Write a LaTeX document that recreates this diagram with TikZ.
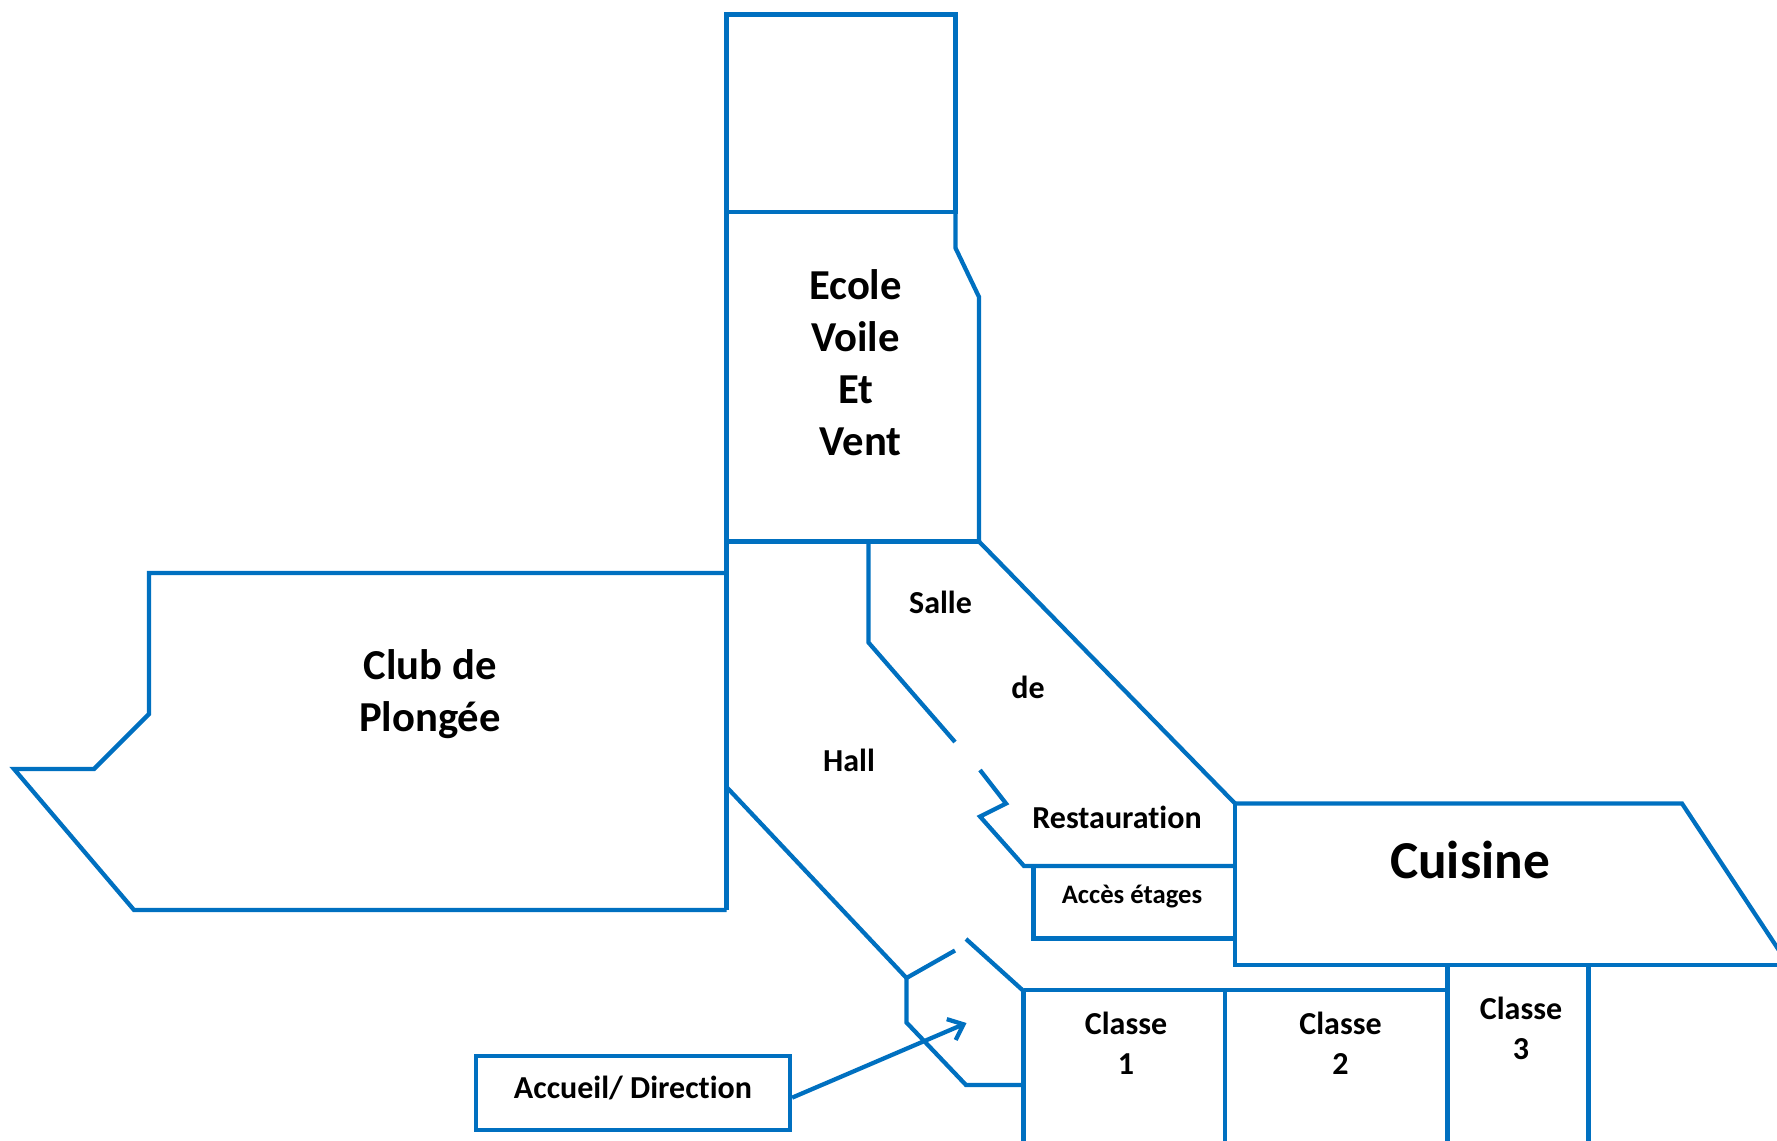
\documentclass[tikz,border=0pt]{standalone}
\usepackage{fontspec}
\setmainfont[Ligatures={NoCommon}]{Carlito}
\usetikzlibrary{arrows.meta}
\definecolor{wallblue}{HTML}{0070C0}
\tikzstyle{wall}=[draw=wallblue,line width=3.2pt,line join=miter]
\tikzstyle{big}=[font=\fontsize{32}{39}\selectfont\bfseries,align=center,inner sep=0pt]
\tikzstyle{mid}=[font=\fontsize{24}{30}\selectfont\bfseries,align=center,inner sep=0pt]
\tikzstyle{small}=[font=\fontsize{20}{24}\selectfont\bfseries,align=center,inner sep=0pt]
\begin{document}
\begin{tikzpicture}[x=0.75pt,y=-0.75pt]
			\useasboundingbox (0,-1) rectangle (1777,1140);
			
			% ecole
			\draw [wall] (726.5,13.5) rectangle (955.5,211);
			\draw [wall] (955.5,211) -- (955.5,247) -- (979,296) -- (979,540.5);
			\draw [wall] (726.5,540.5) -- (979,540.5);
			\draw [wall] (726.5,211) -- (726.5,909);
			
			% club
			\draw [wall] (726.5,572) -- (149,572) -- (149,713) -- (94,768) -- (14,768) -- (134,909) -- (726.5,909);
			
			% salle
			\draw [wall] (868.5,540.5) -- (868.5,641.5) -- (955,741);
			\draw [wall] (980,769) -- (1006,802.5) -- (980,815.5) -- (1024,865) -- (1235,865);
			\draw [wall] (979,540.5) -- (1235,802.5);
			
			% acces
			\draw [wall] (1033.5,865) -- (1033.5,937.5) -- (1235,937.5);
			
			% cuisine
			\draw [wall] (1235,802.5) -- (1682,802.5) -- (1790,966);
			\draw [wall] (1235,802.5) -- (1235,964) -- (1777,964);
			
			% hall
			\draw [wall] (727.5,787) -- (906.5,977) -- (955,949.5);
			\draw [wall] (906.5,977) -- (906.5,1021.5) -- (966,1084) -- (1023.5,1084);
			\draw [wall] (966,938) -- (1023.5,990);
			
			% classes
			\draw [wall] (1023.5,989) -- (1447.5,989);
			\draw [wall] (1023.5,989) -- (1023.5,1141);
			\draw [wall] (1225,989) -- (1225,1141);
			\draw [wall] (1447.5,964) -- (1447.5,1141);
			\draw [wall] (1588.5,964) -- (1588.5,1141);
			
			\node (ecole) at (855.5,362) [big] {Ecole\\Voile\\Et\\\hspace*{.23em}Vent};
			\node (club) at (430,693) [big] {Club de\\Plongée};
			\node (salle) at (940.5,601) [mid] {Salle};
			\node (de) at (1028,686) [mid] {de};
			\node (hall) at (849,759) [mid] {Hall};
			\node (resto) at (1117,816) [mid] {Restauration};
			\node (acces) at (1132,896) [small] {Accès étages};
			\node (cuisine) at (1470,859) [font=\fontsize{40}{48}\selectfont\bfseries,inner sep=0pt] {Cuisine};
			\node (c1) at (1126,1042) [mid] {Classe\\1};
			\node (c2) at (1340.5,1042) [mid] {Classe\\2};
			\node (c3) at (1521,1027) [mid] {Classe\\3};
			\node (accueil) at (633,1092) [mid,wall,text depth=9pt,minimum width=235.5pt,minimum height=55.5pt] {Accueil/ Direction};
			\coordinate (entree) at (966.5,1022);
			
			\draw [wall,-{Straight Barb[length=10pt,width=17pt,line width=3.2pt]}] ([yshift=-3.5pt]accueil.east) -- (entree);
		\end{tikzpicture}
\end{document}
